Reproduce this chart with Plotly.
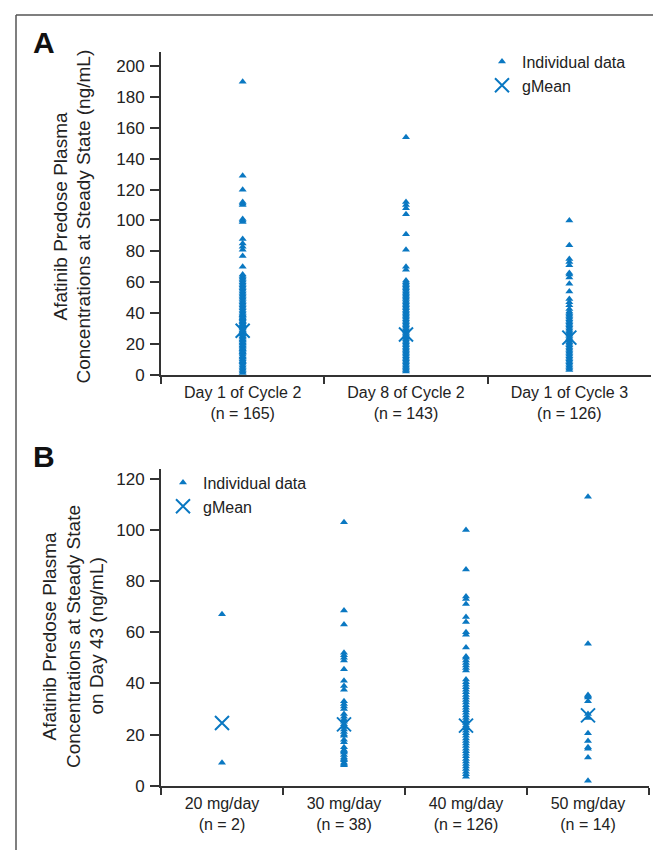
import plotly.graph_objects as go

# ---------------- Panel A data ----------------
cats_a = ["Day 1 of Cycle 2<br>(n = 165)", "Day 8 of Cycle 2<br>(n = 143)", "Day 1 of Cycle 3<br>(n = 126)"]
vals_a_d1c2 = [190, 129, 120, 112, 111, 110, 101, 100, 99, 88, 85, 83, 81, 77, 70,
               65, 64, 63, 62, 61, 60, 59, 58, 57, 56, 55, 54, 53, 52, 51, 50, 49, 48, 47, 46,
               45, 44, 43, 42, 41, 40, 39, 38.5, 38, 37, 36.5, 36, 35, 34.5, 34, 33, 32.5, 32,
               31, 30.5, 30, 29, 28.5, 28, 27, 26.5, 26, 25, 24.5, 24, 23, 22.5, 22, 21, 20.5,
               20, 19, 18.5, 18, 17, 16.5, 16, 15, 14.5, 14, 13, 12, 11.5, 11, 10, 9, 8.5, 8,
               7, 6, 5, 4, 3, 2, 1]
vals_a_d8c2 = [154, 112, 110, 108, 104, 91, 81, 70, 68,
               61, 60, 59, 58, 57, 56, 55, 54, 53, 52, 51, 50, 49, 48, 47, 46, 45, 44, 43, 42,
               41, 40, 39, 38, 37, 36, 35, 34, 33, 32, 31, 30, 29, 28, 27, 26, 25, 24, 23, 22,
               21, 20, 19, 18, 17, 16, 15, 14, 13, 12, 11, 10, 9, 8, 7, 6, 5, 4, 3, 2]
vals_a_d1c3 = [100, 84, 75, 73, 71, 66, 65, 63, 59, 54, 49, 47, 45,
               42.5, 41, 40, 39, 38, 37, 36, 35, 34, 33, 32, 31, 30, 29, 28, 27, 26, 25, 24,
               23, 22, 21, 20, 19, 18, 17, 16, 15, 14, 13, 12, 11, 10, 9, 8, 7, 6, 5, 4, 3]
gmean_a = [28.5, 26, 24]
yticks_a = [0, 20, 40, 60, 80, 100, 120, 140, 160, 180, 200]

# ---------------- Panel B data ----------------
cats_b = ["20 mg/day<br>(n = 2)", "30 mg/day<br>(n = 38)", "40 mg/day<br>(n = 126)", "50 mg/day<br>(n = 14)"]
vals_b_20 = [67, 9]
vals_b_30 = [103, 68.5, 63, 52, 51, 50, 49, 45.5, 41, 39, 37.5, 33, 32, 31, 30, 28, 27, 26,
             25, 24, 23, 22, 21, 20, 19.5, 18, 17, 15, 14, 13.5, 13, 12, 11, 10.5, 10, 9, 8.5, 8]
vals_b_40 = [100, 84.5, 74, 73, 71, 66, 64, 60, 59, 54, 50.5, 50, 49, 48, 47, 46, 45,
             41.5, 40.5, 39.5, 38.5, 37.5, 36.5, 35.5, 34.5, 33.5, 32.5, 31.5, 30.5, 29.5,
             28.5, 27.5, 26.5, 25.5, 24.5, 23.5, 22.5, 21.5, 20.5, 19.5, 18.5, 17.5, 16.5,
             15.5, 14.5, 13.5, 12.5, 11.5, 10.5, 9.5, 8.5, 7.5, 6.5, 5.5, 4.5, 3.5]
vals_b_50 = [113, 55.5, 35.5, 35, 34.5, 33, 28, 26.5, 20.5, 17.5, 15, 14.5, 11, 2]
gmean_b = [24.5, 24, 23.5, 27.5]
yticks_b = [0, 20, 40, 60, 80, 100, 120]

BLUE = "#0a78c2"
AX = "#333333"
FONT = "Liberation Sans, Arial, sans-serif"
W, H = 661, 850


def px(x):
    return x / W


def py(y):
    return 1 - y / H


fig = go.Figure()


def add_panel(cats, series, gmeans, xa, ya, legend):
    xs, ys = [], []
    for c, vals in zip(cats, series):
        xs += [c] * len(vals)
        ys += vals
    fig.add_trace(go.Scatter(
        x=xs, y=ys, mode="markers", name="Individual data", xaxis=xa, yaxis=ya,
        marker=dict(symbol="triangle-up", size=7, color=BLUE, line=dict(width=0)),
        cliponaxis=False, legend=legend))
    fig.add_trace(go.Scatter(
        x=cats, y=gmeans, mode="markers", name="gMean", xaxis=xa, yaxis=ya,
        marker=dict(symbol="x-thin-open", size=14, color=BLUE, line=dict(width=2, color=BLUE)),
        cliponaxis=False, legend=legend))


add_panel(cats_a, [vals_a_d1c2, vals_a_d8c2, vals_a_d1c3], gmean_a, "x", "y", "legend")
add_panel(cats_b, [vals_b_20, vals_b_30, vals_b_40, vals_b_50], gmean_b, "x2", "y2", "legend2")

xcommon = dict(type="category", tickson="boundaries", ticks="outside", ticklen=7,
               tickwidth=1.5, tickcolor=AX, showline=True, linecolor=AX, linewidth=2,
               showgrid=False, zeroline=False, ticklabelstandoff=2,
               tickfont=dict(size=16, color="#222", family=FONT))
ycommon = dict(ticks="outside", ticklen=9, tickwidth=1.5, tickcolor=AX, showline=True,
               linecolor=AX, linewidth=2, showgrid=False, zeroline=False, ticklabelstandoff=2,
               tickfont=dict(size=17, color="#222", family=FONT))

fig.update_layout(
    width=W, height=H, margin=dict(l=0, r=0, t=0, b=0),
    paper_bgcolor="white", plot_bgcolor="white",
    font=dict(family=FONT, color="#222"),
    xaxis=dict(domain=[px(153), px(643)], range=[-0.5, 2.5], anchor="y",
               categoryorder="array", categoryarray=cats_a, **xcommon),
    yaxis=dict(domain=[py(371), py(45)], range=[0, 209], anchor="x",
               tickvals=yticks_a, **ycommon),
    xaxis2=dict(domain=[px(153), px(641)], range=[-0.5, 3.5], anchor="y2",
                categoryorder="array", categoryarray=cats_b, **xcommon),
    yaxis2=dict(domain=[py(787), py(466)], range=[0, 124], anchor="x2",
                tickvals=yticks_b, **ycommon),
    legend=dict(x=px(474), y=py(37), xanchor="left", yanchor="top",
                font=dict(size=16, family=FONT, color="#222"), bgcolor="rgba(0,0,0,0)",
                tracegroupgap=0),
    legend2=dict(x=px(155), y=py(463), xanchor="left", yanchor="top",
                 font=dict(size=16, family=FONT, color="#222"), bgcolor="rgba(0,0,0,0)",
                 tracegroupgap=0),
    showlegend=True,
)

# panel frame (cropped box)
fig.add_shape(type="line", xref="paper", yref="paper", x0=px(8), y0=py(7), x1=1.01, y1=py(7),
              line=dict(color="#555", width=1.5))
fig.add_shape(type="line", xref="paper", yref="paper", x0=px(8), y0=py(7), x1=px(8), y1=-0.01,
              line=dict(color="#555", width=1.5))

# panel letters
fig.add_annotation(text="<b>A</b>", xref="paper", yref="paper", x=px(36), y=py(35),
                   xanchor="center", yanchor="middle",
                   showarrow=False, font=dict(size=30, family="Liberation Sans, Arial", color="#111"))
fig.add_annotation(text="<b>B</b>", xref="paper", yref="paper", x=px(36), y=py(454),
                   xanchor="center", yanchor="middle",
                   showarrow=False, font=dict(size=30, family="Liberation Sans, Arial", color="#111"))

# y-axis titles
titles_a = ["Afatinib Predose Plasma", "Concentrations at Steady State (ng/mL)"]
for i, t in enumerate(titles_a):
    fig.add_annotation(text=t, xref="paper", yref="paper", x=px(53 + 23 * i), y=py(211),
                       xanchor="center", yanchor="middle",
                       textangle=-90, showarrow=False, font=dict(size=19, family=FONT, color="#222"))
titles_b = ["Afatinib Predose Plasma", "Concentrations at Steady State", "on Day 43 (ng/mL)"]
for i, t in enumerate(titles_b):
    fig.add_annotation(text=t, xref="paper", yref="paper", x=px(42 + 23.5 * i), y=py(636),
                       xanchor="center", yanchor="middle",
                       textangle=-90, showarrow=False, font=dict(size=19, family=FONT, color="#222"))

fig.write_html("out.html")
